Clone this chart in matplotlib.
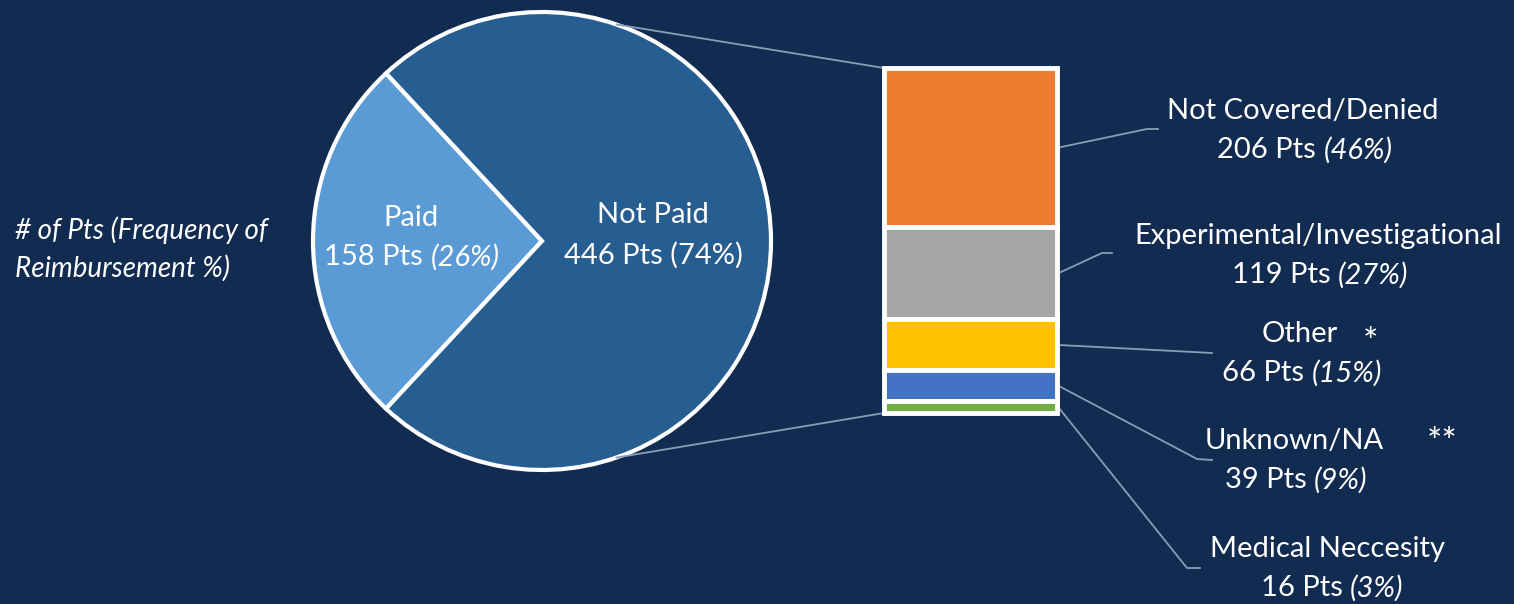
import matplotlib.pyplot as plt
import numpy as np

W, H = 1514, 604
BG = '#122B50'

# main split
pie_labels = ['Paid', 'Not Paid']
pie_counts = [158, 446]
pie_pcts = ['26%', '74%']
pie_colors = ['#5B9BD5', '#275E91']

# breakdown of the "Not Paid" group
reasons = ['Not Covered/Denied', 'Experimental/Investigational', 'Other',
           'Unknown/NA', 'Medical Neccesity']
reason_counts = [206, 119, 66, 39, 16]
reason_pcts = ['46%', '27%', '15%', '9%', '3%']
reason_marks = ['', '', '*', '**', '']
reason_colors = ['#ED7D31', '#A5A5A5', '#FFC000', '#4472C4', '#70AD47']

plt.rcParams['font.family'] = ['Lato', 'DejaVu Sans']

fig = plt.figure(figsize=(W / 100, H / 100), dpi=100, facecolor=BG)
ax = fig.add_axes([0, 0, 1, 1])
ax.set_facecolor(BG)

cx, cy, rad = 542, 241, 229
paid_frac = pie_counts[0] / sum(pie_counts)
ax.pie(pie_counts, colors=pie_colors, startangle=180 - 180 * paid_frac,
       center=(cx, cy), radius=rad,
       wedgeprops=dict(edgecolor='white', linewidth=3))
ax.set_aspect('auto')
ax.set_xlim(0, W)
ax.set_ylim(H, 0)
ax.axis('off')

# stacked bar
bx0, bx1, by0, by1 = 884, 1057, 68, 413
bar_ax = fig.add_axes([bx0 / W, 1 - by1 / H, (bx1 - bx0) / W, (by1 - by0) / H])
total = sum(reason_counts)
bottom = total
for c, col in zip(reason_counts, reason_colors):
    bottom -= c
    bar_ax.bar(0, c, bottom=bottom, width=1, color=col, edgecolor='white',
               linewidth=3.5, clip_on=False)
bar_ax.set_xlim(-0.5, 0.5)
bar_ax.set_ylim(0, total)
bar_ax.axis('off')

LINE = '#8A9DB8'

# connector lines from pie to bar
ang = np.deg2rad(71)
ax.plot([cx + rad * np.cos(ang), bx0], [cy - rad * np.sin(ang), by0],
        color=LINE, lw=1.3)
ax.plot([cx + rad * np.cos(ang), bx0], [cy + rad * np.sin(ang), by1],
        color=LINE, lw=1.3)

renderer = fig.canvas.get_renderer()
FS = 21


def mixed_text(x, y, parts, size=FS):
    objs = [ax.text(0, y, s, fontsize=size, style=st, color='white',
                    ha='left', va='center') for s, st in parts]
    widths = [t.get_window_extent(renderer).width for t in objs]
    x0 = x - sum(widths) / 2
    for t, w in zip(objs, widths):
        t.set_x(x0)
        x0 += w


# pie labels
mixed_text(411, 218, [('Paid', 'normal')])
mixed_text(412, 257, [('158 Pts ', 'normal'), ('(26%)', 'italic')])
mixed_text(653, 215, [('Not Paid', 'normal')])
mixed_text(653, 255, [('446 Pts (74%)', 'normal')])

ax.text(15, 230, '# of Pts (Frequency of', fontsize=20, style='italic',
        color='white', ha='left', va='center')
ax.text(15, 268, 'Reimbursement %)', fontsize=20, style='italic',
        color='white', ha='left', va='center')

# leader lines and labels for the bar
elbows = [[(1147, 129), (1158, 129)],
          [(1102, 253), (1112, 253)],
          [(1212, 353)],
          [(1197, 459), (1212, 460)],
          [(1187, 568), (1200, 568)]]
label_pos = [(1303, 111), (1318, 236), (1300, 334), (1294, 441), (1328, 549)]
mark_pos = [None, None, (1370, 344), (1442, 444), None]

cum = 0
for i, c in enumerate(reason_counts):
    mid = total - (cum + c / 2)
    cum += c
    _, yd = bar_ax.transData.transform((0.5, mid))
    ys = H - yd
    pts = [(bx1 + 1, ys)] + elbows[i]
    ax.plot([p[0] for p in pts], [p[1] for p in pts], color=LINE, lw=1.3)

    lx, ly = label_pos[i]
    mixed_text(lx, ly, [(reasons[i], 'normal')])
    mixed_text(lx + (4 if i == 4 else 2), ly + 39,
               [(f'{c} Pts ', 'normal'), (f'({reason_pcts[i]})', 'italic')])
    if mark_pos[i]:
        ax.text(mark_pos[i][0], mark_pos[i][1], reason_marks[i], fontsize=26,
                color='white', ha='center', va='center')

fig.savefig('out.png', dpi=100, facecolor=BG)
